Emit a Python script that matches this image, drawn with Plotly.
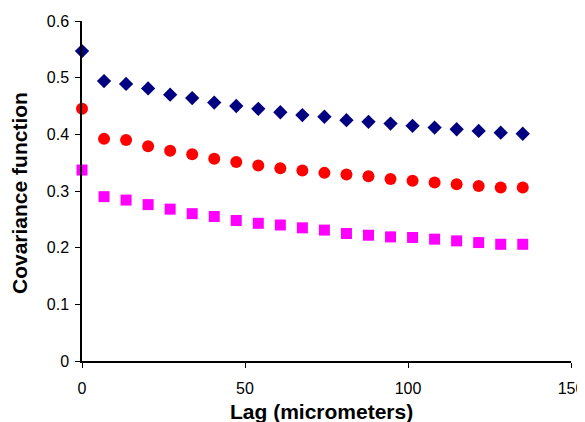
import plotly.graph_objects as go

lag = [round(i * 6.76, 2) for i in range(21)]

series_a = [0.547, 0.494, 0.489, 0.481, 0.470, 0.464, 0.456, 0.450, 0.445, 0.439,
            0.434, 0.431, 0.425, 0.422, 0.419, 0.415, 0.412, 0.409, 0.406, 0.403, 0.401]
series_b = [0.445, 0.392, 0.390, 0.379, 0.371, 0.365, 0.357, 0.351, 0.345, 0.340,
            0.336, 0.332, 0.329, 0.326, 0.321, 0.318, 0.315, 0.312, 0.309, 0.306, 0.306]
series_c = [0.337, 0.290, 0.284, 0.276, 0.268, 0.260, 0.255, 0.248, 0.243, 0.240,
            0.235, 0.231, 0.225, 0.222, 0.219, 0.218, 0.215, 0.212, 0.209, 0.206, 0.206]

x_ticks = [0, 50, 100, 150]
y_ticks = [0, 0.1, 0.2, 0.3, 0.4, 0.5, 0.6]
y_tick_labels = ["0", "0.1", "0.2", "0.3", "0.4", "0.5", "0.6"]

fig = go.Figure()
fig.add_trace(go.Scatter(x=lag, y=series_a, mode="markers", cliponaxis=False,
                         marker=dict(symbol="diamond", size=11, color="#000080")))
fig.add_trace(go.Scatter(x=lag, y=series_b, mode="markers", cliponaxis=False,
                         marker=dict(symbol="circle", size=12, color="#FF0000")))
fig.add_trace(go.Scatter(x=lag, y=series_c, mode="markers", cliponaxis=False,
                         marker=dict(symbol="square", size=11, color="#FF00FF")))

font = "Liberation Sans, Arial, sans-serif"
fig.update_layout(
    width=577, height=414,
    margin=dict(l=74, r=14, t=13, b=61),
    paper_bgcolor="white", plot_bgcolor="white",
    showlegend=False,
    font=dict(family=font, size=16, color="black"),
    xaxis=dict(range=[0, 150], tickvals=x_ticks, showgrid=False, zeroline=False,
               showline=True, linecolor="black", linewidth=1.5, automargin=False,
               ticks="outside", ticklen=5, tickcolor="black", ticklabelstandoff=7,
               tickfont=dict(size=16)),
    yaxis=dict(range=[0, 0.6], tickvals=y_ticks, ticktext=y_tick_labels,
               showgrid=False, zeroline=False, automargin=False,
               showline=True, linecolor="black", linewidth=1.5,
               ticks="outside", ticklen=5, tickcolor="black", ticklabelstandoff=3,
               tickfont=dict(size=16)),
    annotations=[
        dict(text="<b>Lag (micrometers)</b>", xref="paper", yref="paper",
             x=0.49, y=0, xanchor="center", yanchor="middle", yshift=-50,
             showarrow=False, font=dict(size=21)),
        dict(text="<b>Covariance function</b>", xref="paper", yref="paper",
             x=0, y=0.5, xanchor="center", yanchor="middle", xshift=-63, yshift=-2,
             textangle=-90, showarrow=False, font=dict(size=21)),
    ],
)

fig.write_html("out.html")
